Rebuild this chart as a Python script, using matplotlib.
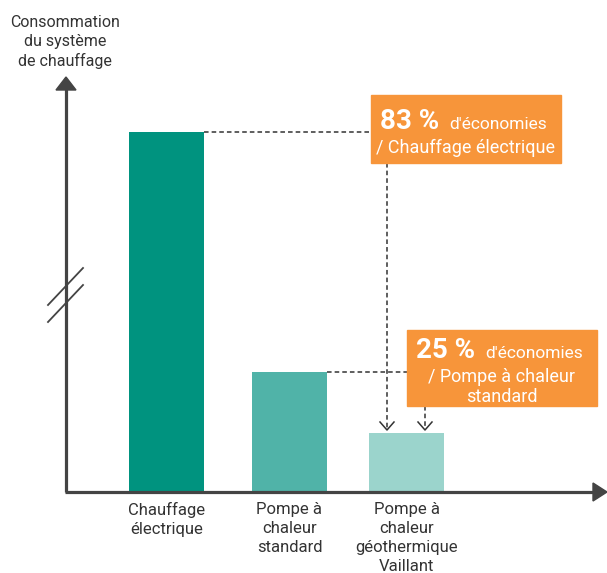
import matplotlib.pyplot as plt
from matplotlib.patches import Rectangle, Polygon

# Data (arbitrary consumption units, axis is broken)
categories = ["Chauffage\nélectrique", "Pompe à\nchaleur\nstandard",
              "Pompe à\nchaleur\ngéothermique\nVaillant"]
consumption = [360, 120, 59]
bar_colors = ["#00937f", "#50b3a8", "#9bd4cc"]
savings = ["83 %", "25 %"]
savings_ref = [["/ Chauffage électrique"], ["/ Pompe à chaleur", "standard"]]
y_label = "Consommation\ndu système\nde chauffage"

plt.rcParams['font.family'] = ['Roboto', 'DejaVu Sans']
H = 573
axis_col = "#444444"
text_col = "#333333"
orange = "#f7953a"

fig = plt.figure(figsize=(6.07, 5.73), dpi=100)
ax = fig.add_axes([0, 0, 1, 1])
ax.set_xlim(0, 607)
ax.set_ylim(0, H)
ax.axis("off")

base = H - 492
x0 = 66
centers = [166.5, 289.5, 406.5]

ax.bar(centers, consumption, width=75, bottom=base, color=bar_colors, zorder=2)

# axes with arrows
ax.plot([x0, x0], [base, H - 88], color=axis_col, lw=2.3, solid_capstyle="butt", zorder=3)
ax.plot([x0 - 1, 595], [base, base], color=axis_col, lw=2.3, solid_capstyle="butt", zorder=3)
ax.add_patch(Polygon([[x0 - 10, H - 90], [x0 + 10, H - 90], [x0, H - 77]],
                     closed=True, color=axis_col, zorder=3))
ax.add_patch(Polygon([[593, base + 9], [593, base - 9], [607, base]],
                     closed=True, color=axis_col, zorder=3))

# axis break marks
for dy in (0, 17):
    ax.plot([48, 83], [H - 305 - dy, H - 268 - dy], color=axis_col, lw=1.3, zorder=4)

ax.text(65, H - 42, y_label, ha="center", va="center", fontsize=11.5,
        color=text_col, linespacing=1.3)

for c, lab in zip(centers, categories):
    ax.text(c, H - 502, lab, ha="center", va="top", fontsize=12,
            color=text_col, linespacing=1.32)

# dashed guides
top1 = base + consumption[0]
top2 = base + consumption[1]
top3 = base + consumption[2]
dash = dict(color="#333333", lw=1.1, ls=(0, (3, 2)))
ax.plot([204, 371], [top1, top1], **dash)
ax.plot([327, 407], [top2, top2], **dash)
for xv, ystart in ((387, H - 163), (425, H - 406)):
    ax.plot([xv, xv], [ystart, top3 + 4], **dash)
    ax.plot([xv - 7, xv, xv + 7], [top3 + 11, top3 + 3, top3 + 11],
            color="#333333", lw=1.1)

# orange boxes with text
boxes = [(371, 95, 561, 163), (407, 330, 597, 406)]
first_line = [(380, 449, 129), (416, 485, 358)]
for (l, t, r, b), (xa, xb, yb), pct, refs in zip(boxes, first_line, savings, savings_ref):
    ax.add_patch(Rectangle((l, H - b), r - l, b - t, color=orange, zorder=5))
    ax.text(xa, H - yb, pct, ha="left", va="baseline", fontsize=20,
            fontweight="bold", color="white", zorder=6)
    ax.text(xb, H - yb, "d'économies", ha="left", va="baseline", fontsize=12.5,
            color="white", zorder=6)
    for i, line in enumerate(refs):
        ax.text((l + r) / 2, H - yb - 24 - 19.5 * i, line, ha="center",
                va="baseline", fontsize=13, color="white", zorder=6)

fig.savefig("out.png", dpi=100)
